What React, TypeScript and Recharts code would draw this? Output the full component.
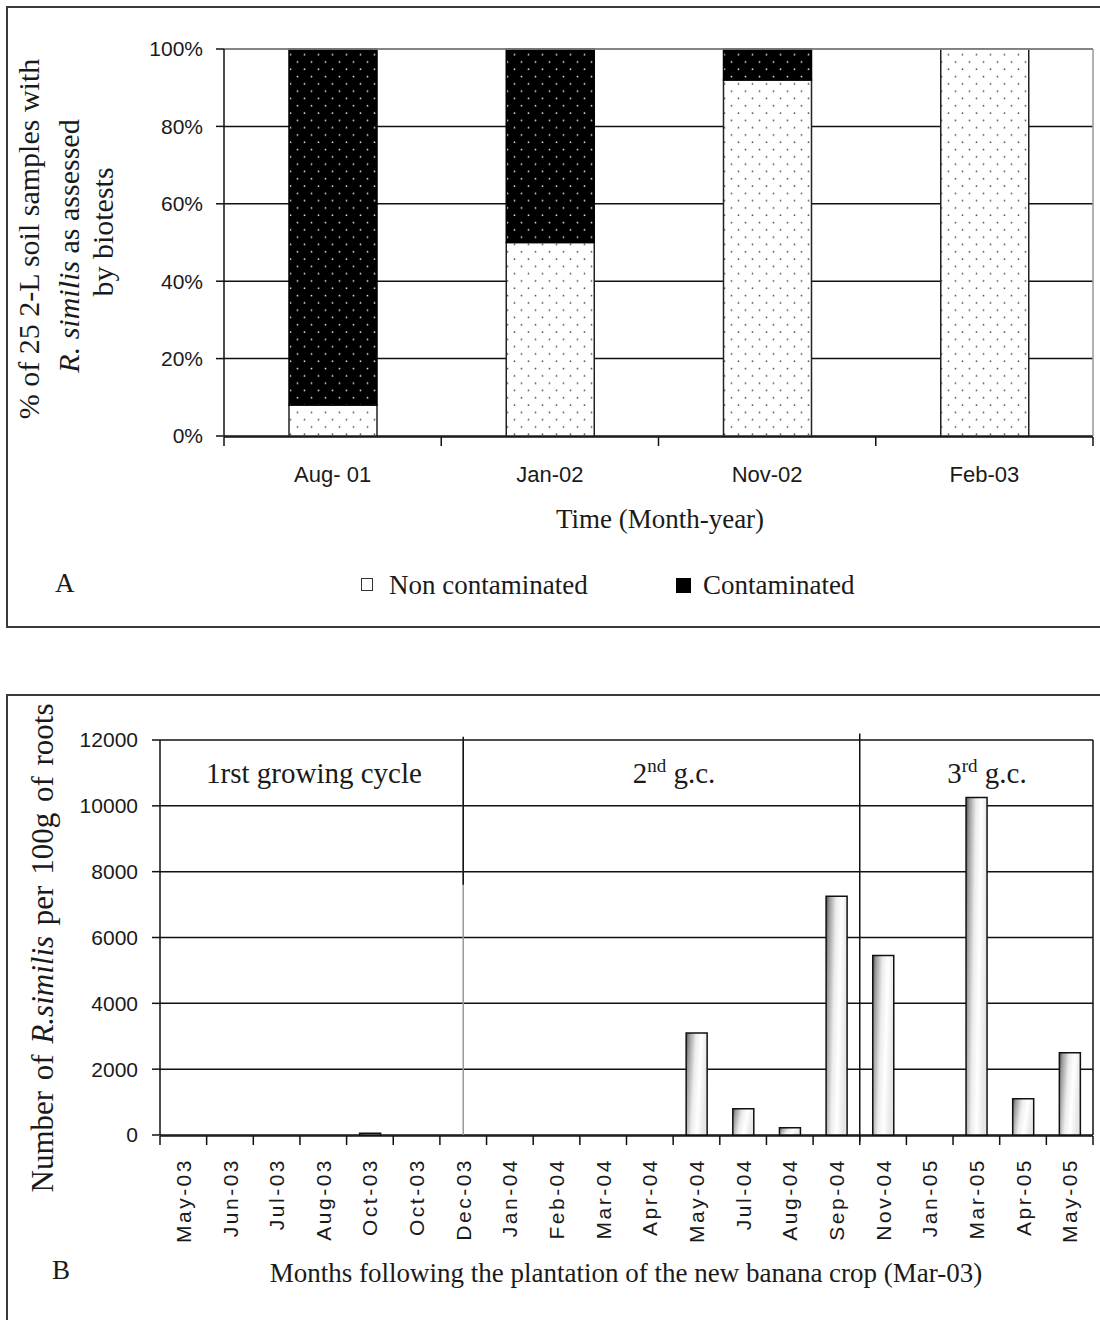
import React from 'react';
import { BarChart, Bar, XAxis, YAxis, CartesianGrid, ReferenceLine, Legend } from 'recharts';

// ---------- Panel A data ----------
const periodsA = ['Aug- 01', 'Jan-02', 'Nov-02', 'Feb-03'];
const nonContaminated = [8, 50, 92, 100];
const contaminated = [92, 50, 8, 0];
const seriesNamesA = ['Non contaminated', 'Contaminated'];
const ticksA = [0, 20, 40, 60, 80, 100];
const edgesA = [0, 1, 2, 3, 4];

// ---------- Panel B data ----------
const monthsB = [
  'May-03', 'Jun-03', 'Jul-03', 'Aug-03', 'Oct-03', 'Oct-03', 'Dec-03', 'Jan-04', 'Feb-04', 'Mar-04',
  'Apr-04', 'May-04', 'Jul-04', 'Aug-04', 'Sep-04', 'Nov-04', 'Jan-05', 'Mar-05', 'Apr-05', 'May-05',
];
const rsimilisB = [0, 0, 0, 0, 50, 0, 0, 0, 0, 0, 0, 3100, 800, 220, 7250, 5450, 0, 10250, 1100, 2500];
const ticksB = [0, 2000, 4000, 6000, 8000, 10000, 12000];
const edgesB = Array.from({ length: 21 }, (_, i) => i);
const cycle2Start = 6.5;
const cycle3Start = 15;

const dataA = periodsA.map((p, i) => ({ period: p, non: nonContaminated[i], cont: contaminated[i] }));
const dataB = monthsB.map((m, i) => ({ month: m, value: rsimilisB[i] }));

const SERIF = '"Liberation Serif", "Times New Roman", serif';
const SANS = '"Liberation Sans", Arial, sans-serif';
const INK = '#1a1a1a';

const RotTick = (props: any) => {
  const { x, y, payload } = props;
  return (
    <text
      x={x}
      y={y}
      transform={`rotate(-90 ${x} ${y})`}
      textAnchor="end"
      dy="0.36em"
      fontSize={21}
      letterSpacing={2.5}
      fontFamily={SANS}
      fill={INK}
    >
      {payload.value}
    </text>
  );
};

const LegendA = () => {
  const iconLeft = [361, 676];
  const textLeft = [389, 703];
  return (
    <div style={{ position: 'relative', width: 1100, height: 34, fontFamily: SERIF, fontSize: 27, color: INK }}>
      {seriesNamesA.map((name, i) => (
        <React.Fragment key={i}>
          <span
            style={{
              position: 'absolute',
              left: iconLeft[i],
              top: 10,
              width: i === 0 ? 12 : 15,
              height: i === 0 ? 13 : 15,
              boxSizing: 'border-box',
              border: i === 0 ? '1.5px solid #333' : '1px solid #000',
              background: i === 0 ? '#fff' : '#000',
            }}
          />
          <span style={{ position: 'absolute', left: textLeft[i], top: 0, lineHeight: '34px', whiteSpace: 'nowrap' }}>
            {name}
          </span>
        </React.Fragment>
      ))}
    </div>
  );
};

const emptyLabel = () => '';

export default function App() {
  return (
    <div style={{ position: 'absolute', left: 0, top: 0, width: 1100, height: 1320, overflow: 'hidden', background: '#fff' }}>
      {/* frames */}
      <div style={{ position: 'absolute', left: 6, top: 6, width: 1120, height: 622, boxSizing: 'border-box', border: '2px solid #3a3a3a' }} />
      <div style={{ position: 'absolute', left: 6, top: 694, width: 1120, height: 660, boxSizing: 'border-box', border: '2px solid #3a3a3a' }} />

      {/* Panel A */}
      <div style={{ position: 'absolute', left: 0, top: 0 }}>
        <BarChart width={1100} height={640} data={dataA} margin={{ top: 49, right: 7, left: 0, bottom: 202 }} barSize={88}>
          <defs>
            <pattern id="dotsLight" width="14" height="14.6" patternUnits="userSpaceOnUse">
              <rect width="14" height="14.6" fill="#fff" />
              <circle cx="3.5" cy="3.6" r="0.9" fill="#555" />
              <circle cx="10.5" cy="10.9" r="0.9" fill="#555" />
            </pattern>
            <pattern id="dotsDark" width="14" height="14.6" patternUnits="userSpaceOnUse">
              <rect width="14" height="14.6" fill="#000" />
              <circle cx="3.5" cy="3.6" r="0.9" fill="#ddd" />
              <circle cx="10.5" cy="10.9" r="0.9" fill="#ddd" />
            </pattern>
          </defs>
          <CartesianGrid xAxisId="cat" vertical={false} stroke="#111" strokeWidth={1.5} />
          <XAxis
            xAxisId="cat"
            dataKey="period"
            interval={0}
            axisLine={false}
            tickLine={false}
            tickSize={0}
            tickMargin={30}
            height={1}
            tick={{ fontSize: 22, fill: INK, fontFamily: SANS }}
          />
          <XAxis
            xAxisId="edge"
            dataKey="non"
            type="number"
            domain={[0, 4]}
            ticks={edgesA}
            allowDataOverflow
            interval={0}
            tickFormatter={emptyLabel}
            tickSize={9}
            height={1}
            axisLine={{ stroke: '#111', strokeWidth: 1.5 }}
            tickLine={{ stroke: '#111', strokeWidth: 1.5 }}
          />
          <YAxis
            width={224}
            domain={[0, 100]}
            ticks={ticksA}
            tickFormatter={(v: number) => `${v}%`}
            tickSize={8}
            tickMargin={13}
            axisLine={{ stroke: '#111', strokeWidth: 1.5 }}
            tickLine={{ stroke: '#111', strokeWidth: 1.5 }}
            tick={{ fontSize: 21, fill: INK, fontFamily: SANS }}
          />
          <Bar xAxisId="cat" dataKey="non" stackId="a" name={seriesNamesA[0]} fill="url(#dotsLight)" stroke="#222" strokeWidth={1.5} isAnimationActive={false} />
          <Bar xAxisId="cat" dataKey="cont" stackId="a" name={seriesNamesA[1]} fill="url(#dotsDark)" stroke="#000" strokeWidth={1.5} isAnimationActive={false} />
          <ReferenceLine xAxisId="cat" y={100} stroke="#999" strokeWidth={1.5} />
          <ReferenceLine xAxisId="edge" x={4} stroke="#999" strokeWidth={1.5} />
          <Legend
            layout="horizontal"
            verticalAlign="middle"
            align="center"
            content={<LegendA />}
            wrapperStyle={{ top: 568, left: 0, width: 1100, height: 34 }}
          />
          {/* Y title */}
          <text transform="translate(39 239) rotate(-90)" textAnchor="middle" fontFamily={SERIF} fontSize={30} fill={INK}>
            % of 25 2-L soil samples with
          </text>
          <text transform="translate(79 246) rotate(-90)" textAnchor="middle" fontFamily={SERIF} fontSize={30} fill={INK}>
            <tspan fontStyle="italic">R. similis</tspan>
            <tspan> as assessed</tspan>
          </text>
          <text transform="translate(113 232) rotate(-90)" textAnchor="middle" fontFamily={SERIF} fontSize={30} fill={INK}>
            by biotests
          </text>
          {/* X title */}
          <text x={660} y={528} textAnchor="middle" fontFamily={SERIF} fontSize={27} fill={INK}>
            Time (Month-year)
          </text>
          <text x={55} y={592} fontFamily={SERIF} fontSize={27} fill={INK}>
            A
          </text>
        </BarChart>
      </div>

      {/* Panel B */}
      <div style={{ position: 'absolute', left: 0, top: 690 }}>
        <BarChart width={1100} height={630} data={dataB} margin={{ top: 50, right: 7, left: 0, bottom: 183 }} barSize={21}>
          <defs>
            <linearGradient id="barGrad" x1="0" y1="0" x2="1" y2="0.25">
              <stop offset="0" stopColor="#4d4d4d" />
              <stop offset="0.15" stopColor="#9a9a9a" />
              <stop offset="0.45" stopColor="#ececec" />
              <stop offset="0.7" stopColor="#ffffff" />
              <stop offset="1" stopColor="#e6e6e6" />
            </linearGradient>
          </defs>
          <CartesianGrid xAxisId="cat" vertical={false} stroke="#111" strokeWidth={1.5} />
          <XAxis
            xAxisId="cat"
            dataKey="month"
            interval={0}
            axisLine={false}
            tickLine={false}
            tickSize={0}
            tickMargin={23}
            height={1}
            tick={<RotTick />}
          />
          <XAxis
            xAxisId="edge"
            dataKey="value"
            type="number"
            domain={[0, 20]}
            ticks={edgesB}
            allowDataOverflow
            interval={0}
            tickFormatter={emptyLabel}
            tickSize={9}
            height={1}
            axisLine={{ stroke: '#111', strokeWidth: 1.5 }}
            tickLine={{ stroke: '#111', strokeWidth: 1.5 }}
          />
          <YAxis
            width={160}
            domain={[0, 12000]}
            ticks={ticksB}
            tickSize={8}
            tickMargin={14}
            axisLine={{ stroke: '#111', strokeWidth: 1.5 }}
            tickLine={{ stroke: '#111', strokeWidth: 1.5 }}
            tick={{ fontSize: 21, fill: INK, fontFamily: SANS }}
          />
          <Bar xAxisId="cat" dataKey="value" name="R. similis" fill="url(#barGrad)" stroke="#111" strokeWidth={1.5} isAnimationActive={false} />
          <ReferenceLine xAxisId="edge" x={cycle2Start} stroke="#9a9a9a" strokeWidth={1.5} />
          <ReferenceLine
            xAxisId="edge"
            segment={[{ x: cycle2Start, y: 7600 }, { x: cycle2Start, y: 12100 }]}
            stroke="#111"
            strokeWidth={1.5}
            ifOverflow="visible"
          />
          <ReferenceLine
            xAxisId="edge"
            segment={[{ x: cycle3Start, y: -200 }, { x: cycle3Start, y: 12200 }]}
            stroke="#111"
            strokeWidth={1.5}
            ifOverflow="visible"
          />
          <ReferenceLine xAxisId="edge" x={20} stroke="#111" strokeWidth={1.5} />
          {/* cycle labels */}
          <text x={314} y={93} textAnchor="middle" fontFamily={SERIF} fontSize={29} fill={INK}>
            1rst growing cycle
          </text>
          <text x={674} y={93} textAnchor="middle" fontFamily={SERIF} fontSize={29} fill={INK}>
            2<tspan fontSize={19} dy={-11}>nd</tspan>
            <tspan dy={11}> g.c.</tspan>
          </text>
          <text x={987} y={93} textAnchor="middle" fontFamily={SERIF} fontSize={29} fill={INK}>
            3<tspan fontSize={19} dy={-11}>rd</tspan>
            <tspan dy={11}> g.c.</tspan>
          </text>
          {/* Y title */}
          <text transform="translate(53 258) rotate(-90)" textAnchor="middle" fontFamily={SERIF} fontSize={31} wordSpacing={3} fill={INK}>
            <tspan>Number of </tspan>
            <tspan fontStyle="italic">R.similis</tspan>
            <tspan> per 100g of roots</tspan>
          </text>
          {/* X title */}
          <text x={626} y={592} textAnchor="middle" fontFamily={SERIF} fontSize={27} fill={INK}>
            Months following the plantation of the new banana crop (Mar-03)
          </text>
          <text x={52} y={589} fontFamily={SERIF} fontSize={27} fill={INK}>
            B
          </text>
        </BarChart>
      </div>
    </div>
  );
}
